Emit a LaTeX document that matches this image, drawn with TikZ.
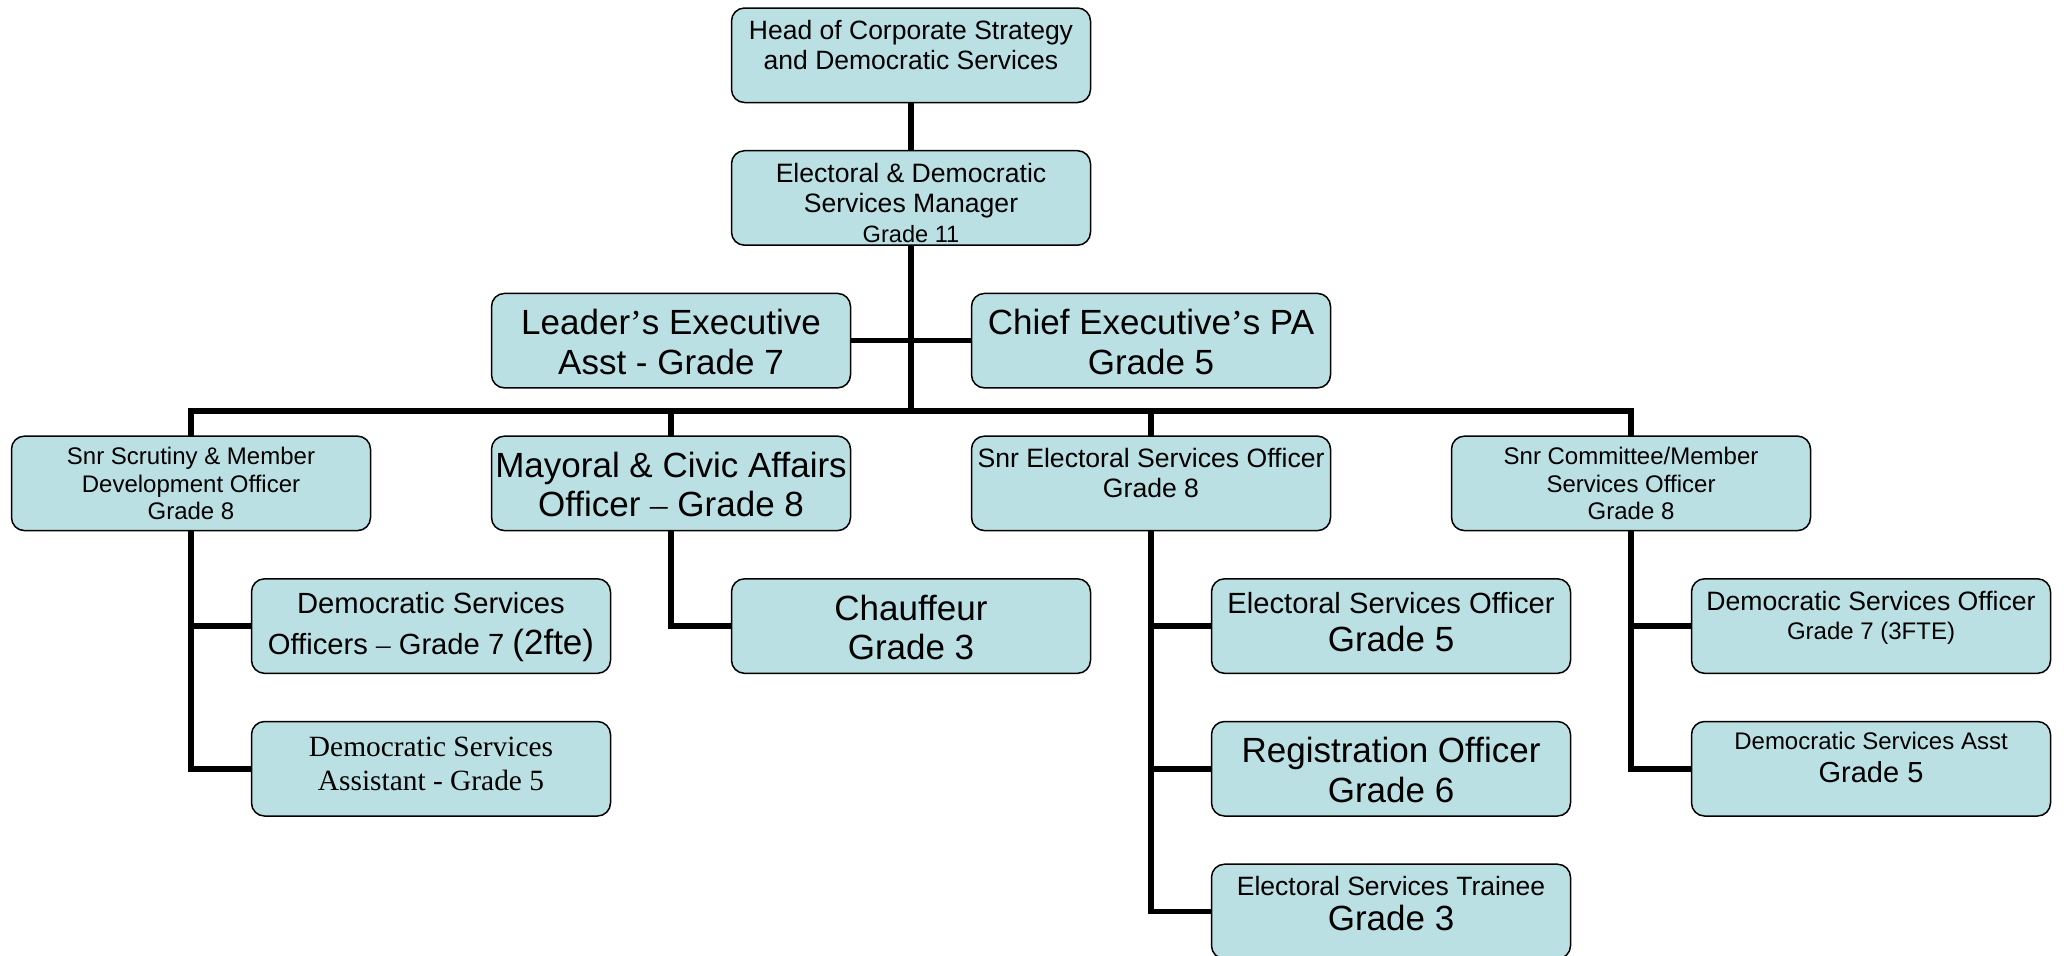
\documentclass[tikz,border=0pt]{standalone}
\usepackage{fontspec}
\setmainfont{Liberation Sans}
\newfontfamily\tnr{Liberation Serif}
\definecolor{boxfill}{RGB}{187,224,227}
\tikzset{
  box/.style={draw=black, line width=0.75pt, fill=boxfill, rounded corners=6.5pt,
    minimum width=179.5pt, minimum height=47.25pt, inner sep=0pt, outer sep=0pt},
  conn/.style={line width=2.8pt, draw=black},
}
\newcommand\fs[2]{\fontsize{#1}{#2}\selectfont}
\newcommand\fl{\rule{0pt}{1.18em}}
\newcommand\bt[1]{\parbox[c][47.25pt][t]{179.5pt}{\parskip=0pt\centering #1\par}}
\begin{document}
\begin{tikzpicture}[x=0.5pt,y=-0.5pt]
\useasboundingbox (0,0) rectangle (2064,955);
\fill[white] (0,0) rectangle (2064,955);
\clip (0,0) rectangle (2064,955);
\coordinate (bus) at (911,411);
\node[box] (head) at (911,55.25) {\bt{\fs{13.25}{15.1}\fl Head of Corporate Strategy\\and Democratic Services}};
\node[box] (mgr) at (911,197.95) {\bt{\fs{13.3}{15.1}\fl Electoral \& Democratic\\Services Manager\par\fs{11.8}{15.1}Grade 11}};
\node[box] (lea) at (671,340.65) {\bt{\fs{17.5}{19.75}\fl Leader{\tnr ’}s Executive\\Asst - Grade 7}};
\node[box] (chf) at (1151,340.65) {\bt{\fs{17.5}{19.75}\fl Chief Executive{\tnr ’}s PA\\Grade 5}};
\node[box] (scr) at (191,483.35) {\bt{\fs{12}{13.8}\fl Snr Scrutiny \& Member\\Development Officer\\Grade 8}};
\node[box] (may) at (671,483.35) {\bt{\fs{17.5}{19.75}\fl Mayoral \& Civic Affairs\\Officer {\tnr –} Grade 8}};
\node[box] (sel) at (1151,483.35) {\bt{\fs{13.3}{15.1}\fl Snr Electoral Services Officer\\Grade 8}};
\node[box] (com) at (1631,483.35) {\bt{\fs{12}{13.8}\fl Snr Committee/Member\\Services Officer\\Grade 8}};
\node[box] (dso) at (431,626.05) {\bt{\fs{14.6}{16.6}\fl Democratic Services\par\fs{14.6}{20.4}Officers {\tnr –} Grade 7 {\fs{17.5}{20.4}(2fte)}}};
\node[box] (chau) at (911,626.05) {\bt{\fs{17.5}{19.75}\fl Chauffeur\\Grade 3}};
\node[box] (eso) at (1391,626.05) {\bt{\fs{14.6}{16.6}\fl Electoral Services Officer\par\fs{17.5}{19.2}Grade 5}};
\node[box] (dsor) at (1871,626.05) {\bt{\fs{13.3}{15}\fl Democratic Services Officer\par\fs{12}{14.5}Grade 7 (3FTE)}};
\node[box] (dsa) at (431,768.75) {\bt{\tnr\fs{14.7}{17}\fl Democratic Services\\Assistant - Grade 5}};
\node[box] (reg) at (1391,768.75) {\bt{\fs{17.5}{19.75}\fl Registration Officer\\Grade 6}};
\node[box] (dsar) at (1871,768.75) {\bt{\fs{12}{13.8}\fl Democratic Services Asst\par\fs{14.5}{16.2}Grade 5}};
\node[box] (trn) at (1391,911.45) {\bt{\fs{13.25}{15}\fl Electoral Services Trainee\par\fs{17.5}{17.6}Grade 3}};
% connectors
\draw[conn] (head.south) -- (mgr.north);
\draw[conn] (mgr.south) -- (bus);
\draw[conn] (lea.east) -- (chf.west);
\draw[conn] (scr.north) |- (bus) -| (com.north);
\draw[conn] (may.north) -- (may.north |- bus);
\draw[conn] (sel.north) -- (sel.north |- bus);
\draw[conn] (scr.south) |- (dso.west);
\draw[conn] (scr.south) |- (dsa.west);
\draw[conn] (may.south) |- (chau.west);
\draw[conn] (sel.south) |- (eso.west);
\draw[conn] (sel.south) |- (reg.west);
\draw[conn] (sel.south) |- (trn.west);
\draw[conn] (com.south) |- (dsor.west);
\draw[conn] (com.south) |- (dsar.west);
\end{tikzpicture}
\end{document}
